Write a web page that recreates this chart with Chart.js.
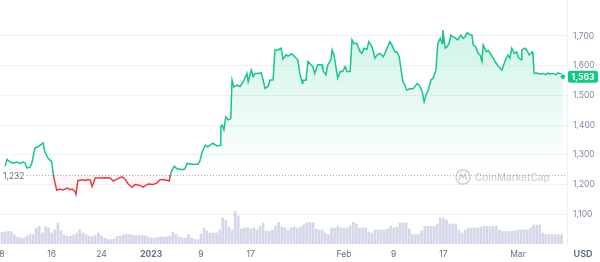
<!DOCTYPE html>
<html>
<head>
<meta charset="utf-8">
<script src="https://cdn.jsdelivr.net/npm/chart.js@4"></script>
<style>
  html, body { margin: 0; padding: 0; background: #fff; }
  #wrap { width: 600px; height: 262px; position: relative; }
</style>
</head>
<body>
<div id="wrap"><canvas id="chart"></canvas></div>
<script>
// price trace, days since Dec 8 2022
const days = [
  0.5,0.8,1.3,1.8,2.4,2.9,3.4,3.7,4.0,4.5,4.8,5.3,5.8,6.3,6.6,6.9,7.4,8.0,8.2,8.5,
  8.8,9.3,9.8,10.5,10.9,11.3,11.7,11.9,12.2,12.9,13.4,13.8,14.2,14.5,15.0,15.8,16.6,17.4,17.9,18.7,
  19.3,19.8,20.3,20.9,21.4,22.2,22.7,23.5,24.3,24.9,25.4,26.2,26.9,27.2,27.7,28.1,29.0,29.4,29.8,30.6,
  31.5,31.8,32.2,32.7,33.1,33.9,34.6,35.1,35.2,35.4,35.7,36.0,36.4,36.8,37.0,37.3,37.8,38.3,38.8,39.4,
  39.6,40.1,40.4,40.7,41.2,41.7,42.0,42.3,42.8,43.1,43.6,43.9,44.4,44.9,45.2,45.7,46.0,46.6,47.1,47.6,
  47.9,48.3,48.4,48.9,49.2,49.7,50.0,50.3,50.8,51.5,51.6,52.1,52.4,52.9,53.1,53.4,53.7,54.0,54.4,54.8,
  55.2,55.5,56.0,56.3,56.6,57.1,57.6,57.9,58.2,58.7,59.0,59.5,60.0,60.3,60.8,61.3,61.6,61.9,62.4,62.7,
  63.2,63.5,63.9,64.2,64.5,64.8,65.1,65.6,66.1,66.8,67.1,67.6,67.9,68.2,68.5,69.0,69.3,69.8,70.1,70.5,
  70.8,70.9,71.3,71.6,71.9,72.2,72.5,73.0,73.3,73.8,74.2,74.5,74.8,75.1,75.6,75.8,76.2,76.6,76.9,77.2,
  77.4,77.9,78.2,78.7,79.3,79.9,80.4,80.6,81.1,81.4,81.7,82.0,82.4,82.8,83.0,83.5,83.6,84.1,84.4,84.8,
  85.3,85.4,85.6,86.0,86.5,87.0,87.4,87.8,88.1,88.6,89.1,89.4,89.9,90.2
];
const prices = [
  1262,1285,1276,1272,1276,1270,1276,1272,1256,1258,1272,1323,1327,1335,1340,1310,1289,1277,1239,1208,
  1181,1185,1182,1188,1183,1185,1178,1167,1213,1216,1214,1217,1215,1193,1222,1222,1223,1222,1212,1220,
  1226,1218,1202,1191,1200,1197,1191,1202,1200,1205,1216,1216,1212,1242,1262,1254,1250,1253,1271,1268,
  1268,1277,1310,1333,1327,1339,1330,1332,1395,1400,1384,1428,1417,1422,1552,1529,1535,1530,1546,1574,
  1546,1585,1563,1574,1574,1576,1552,1524,1530,1552,1552,1653,1653,1659,1622,1637,1632,1640,1630,1619,
  1574,1541,1551,1551,1614,1603,1597,1574,1603,1603,1585,1569,1603,1619,1653,1636,1597,1558,1580,1580,
  1597,1580,1580,1687,1675,1675,1647,1641,1658,1655,1681,1664,1625,1636,1641,1630,1641,1658,1681,1670,
  1647,1647,1630,1585,1546,1535,1518,1522,1522,1540,1535,1513,1479,1502,1513,1552,1557,1585,1675,1692,
  1675,1720,1659,1664,1675,1703,1698,1692,1687,1703,1692,1698,1711,1706,1703,1670,1664,1641,1636,1614,
  1670,1647,1652,1636,1614,1597,1585,1597,1625,1636,1625,1659,1641,1646,1630,1620,1653,1659,1653,1636,
  1646,1636,1574,1575,1572,1574,1570,1575,1572,1574,1570,1575,1573,1563
];

// volume (billions USD), one bar every half day from Dec 8
const volumes = [
  5.8,6,6.3,6.3,4.7,3.5,3,3,4,4.7, 4.7,8,8.8,5.5,8.5,8,5.5,7.2,10.5,6.5,
  4.5,3.8,3.8,4.5,5.5,7.2,5.5,4.7,3.8,3.8, 4.5,5.5,4.2,3,2.2,2.2,2.5,3.8,4,4.7,
  4.7,4.7,4.5,4.2,4.2,4.2,4.2,3.5,3,3, 3.3,3.5,3.5,3.5,4,5.8,4.7,3.5,3,3,
  4.7,3,2.2,2.2,5,8,6.5,5.5,5.5,5.5, 7,13,12,8.5,7,16.3,14,7.5,8,8,
  7.5,8,7,8.8,10.5,6.5,6.3,7,9,10.8, 8.5,8,7,8,8.5,8,8.5,9.5,10.5,10.8,
  10.8,7.5,7,7,5.5,4.7,8,8,8.8,8, 8,8,9,10.8,10,8,8,8,6,5.5,
  7,7,7,7,7.5,8.8,8,8.5,10.5,10.5, 10.5,7.5,4.7,4.7,4.7,6.5,8.8,8.8,8.8,8.8,
  10,13,13,12,10,10,10,7,5.5,7, 8,8,8,8,8.5,8.8,8.8,8.8,8.8,8.8,
  7,6.3,6.3,6.3,6.3,6.5,7,7,7,7, 8,9.5,9.5,9.5,5.5,4.7,4.7,4.7,4.7,4.7,
  4.7
];
const volDays = volumes.map((v, i) => i * 0.5);

const tickDays = [0, 8, 16, 24, 32, 40, 55, 63, 71, 83];
const tickLabels = ["8", "16", "24", "2023", "9", "17", "Feb", "9", "17", "Mar"];
const priceTicks = [1100, 1200, 1300, 1400, 1500, 1600, 1700];
const openPrice = 1232;

const GREEN = "#16c784";
const RED = "#ea3943";
const FONT = "Inter";

function splitColor(ctx) {
  const chart = ctx.chart;
  const area = chart.chartArea;
  if (!area) return GREEN;
  const y = chart.scales.y.getPixelForValue(openPrice);
  const s = Math.min(1, Math.max(0, (y - area.top) / (area.bottom - area.top)));
  const g = chart.ctx.createLinearGradient(0, area.top, 0, area.bottom);
  g.addColorStop(0, GREEN);
  g.addColorStop(s, GREEN);
  g.addColorStop(s, RED);
  g.addColorStop(1, RED);
  return g;
}

function fillColor(ctx) {
  const chart = ctx.chart;
  const area = chart.chartArea;
  if (!area) return "rgba(22,199,132,0.15)";
  const yTop = chart.scales.y.getPixelForValue(1720);
  const yBase = chart.scales.y.getPixelForValue(openPrice);
  const g = chart.ctx.createLinearGradient(0, yTop, 0, yBase);
  g.addColorStop(0, "rgba(22,199,132,0.2)");
  g.addColorStop(1, "rgba(22,199,132,0.0)");
  return g;
}

const overlay = {
  id: "overlay",
  beforeDatasetsDraw(chart) {
    const { ctx, chartArea, scales } = chart;
    const y = Math.round(scales.y.getPixelForValue(openPrice)) + 0.5;
    ctx.save();
    ctx.strokeStyle = "#a6b0c3";
    ctx.lineWidth = 1;
    ctx.setLineDash([1, 2]);
    ctx.beginPath();
    ctx.moveTo(chartArea.left, y);
    ctx.lineTo(chartArea.right, y);
    ctx.stroke();
    ctx.restore();
  },
  afterDatasetsDraw(chart) {
    const { ctx, chartArea, scales } = chart;
    ctx.save();
    // open price label
    const y = scales.y.getPixelForValue(openPrice);
    ctx.font = `8.5px ${FONT}`;
    const w = ctx.measureText("1,232").width;
    ctx.fillStyle = "#fff";
    ctx.fillRect(chartArea.left, y - 5, w + 5, 10);
    ctx.fillStyle = "#616e85";
    ctx.textBaseline = "middle";
    ctx.fillText("1,232", chartArea.left + 3, y + 1.5);

    // watermark
    const cx = 463, cy = 177;
    ctx.strokeStyle = "rgba(150,158,175,0.5)";
    ctx.lineWidth = 1.3;
    ctx.beginPath();
    ctx.arc(cx, cy, 7, 0, Math.PI * 2);
    ctx.stroke();
    ctx.beginPath();
    ctx.moveTo(cx - 4, cy + 3);
    ctx.lineTo(cx - 2, cy - 3);
    ctx.lineTo(cx, cy + 1);
    ctx.lineTo(cx + 2, cy - 3);
    ctx.lineTo(cx + 4, cy + 3);
    ctx.stroke();
    ctx.fillStyle = "rgba(150,158,175,0.5)";
    ctx.font = `500 10px ${FONT}`;
    ctx.fillText("CoinMarketCap", 475, cy + 0.5);

    // last point + price tag
    const last = prices.length - 1;
    const lx = scales.x.getPixelForValue(days[last]);
    const ly = scales.y.getPixelForValue(prices[last]);
    ctx.beginPath();
    ctx.arc(lx, ly, 2.8, 0, Math.PI * 2);
    ctx.fillStyle = GREEN;
    ctx.fill();
    ctx.lineWidth = 1;
    ctx.strokeStyle = "#fff";
    ctx.stroke();

    ctx.fillStyle = GREEN;
    ctx.beginPath();
    ctx.roundRect(chartArea.right + 1, ly - 6, 30, 12, 2);
    ctx.fill();
    ctx.fillStyle = "#fff";
    ctx.font = `bold 8.5px ${FONT}`;
    ctx.textAlign = "center";
    ctx.fillText(prices[last].toLocaleString("en-US"), chartArea.right + 16, ly + 0.5);

    // currency label
    ctx.fillStyle = "#58667e";
    ctx.font = `600 9px ${FONT}`;
    ctx.fillText("USD", 583, 254);
    ctx.restore();
  }
};

new Chart(document.getElementById("chart"), {
  type: "line",
  data: {
    datasets: [
      {
        type: "line",
        data: days.map((d, i) => ({ x: d, y: prices[i] })),
        borderColor: splitColor,
        backgroundColor: fillColor,
        borderWidth: 1.5,
        pointRadius: 0,
        tension: 0,
        fill: { target: { value: openPrice }, below: "rgba(234,57,67,0.04)" },
        yAxisID: "y",
        order: 1,
      },
      {
        type: "bar",
        data: volDays.map((d, i) => ({ x: d, y: volumes[i] })),
        backgroundColor: "rgba(150,160,200,0.42)",
        barThickness: 2,
        yAxisID: "yv",
        order: 2,
      },
    ],
  },
  options: {
    responsive: true,
    maintainAspectRatio: false,
    animation: false,
    layout: { padding: 0 },
    plugins: { legend: { display: false }, tooltip: { enabled: false } },
    scales: {
      x: {
        type: "linear",
        min: -0.32,
        max: 90.88,
        offset: false,
        grid: { display: false, drawTicks: false },
        border: { display: false },
        afterBuildTicks: s => { s.ticks = tickDays.map(v => ({ value: v })); },
        afterFit: s => { s.height = 18; s.paddingLeft = 0; s.paddingRight = 0; },
        ticks: {
          autoSkip: false,
          maxRotation: 0,
          padding: 5,
          color: "#616e85",
          font: c => ({ family: FONT, size: 8.5, weight: c.tick && c.tick.value === 24 ? "bold" : "normal" }),
          callback: (v) => tickLabels[tickDays.indexOf(v)],
        },
      },
      y: {
        position: "right",
        min: 1000,
        max: 1821,
        grid: { color: "#eff2f5", lineWidth: 1, drawTicks: false },
        border: { display: true, color: "#eff2f5" },
        afterBuildTicks: s => { s.ticks = priceTicks.map(v => ({ value: v })); },
        afterFit: s => { s.width = 33; s.paddingTop = 0; s.paddingBottom = 0; },
        ticks: {
          padding: 6,
          color: "#808a9d",
          font: { family: FONT, size: 8.5 },
          callback: v => v.toLocaleString("en-US"),
        },
      },
      yv: {
        display: false,
        min: 0,
        max: 122,
      },
    },
  },
  plugins: [overlay],
});
</script>
</body>
</html>
